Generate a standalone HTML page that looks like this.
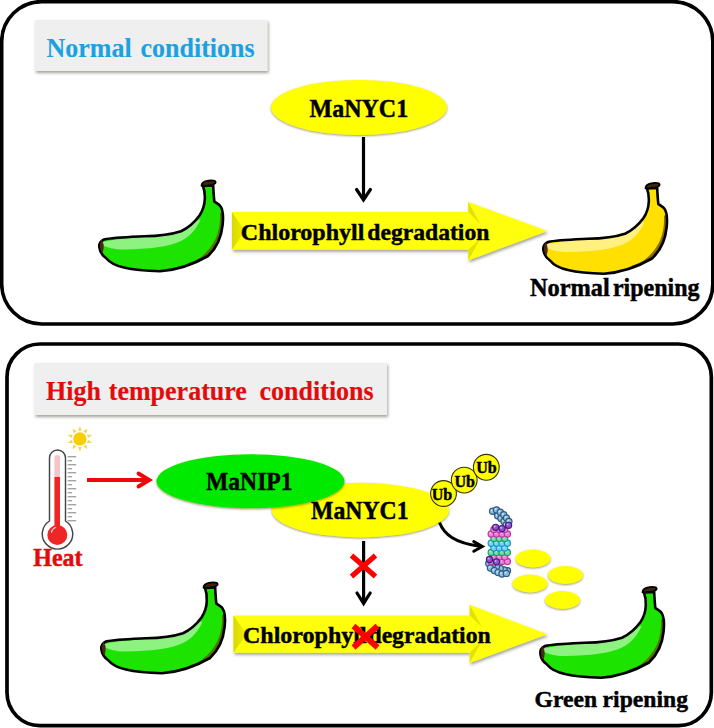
<!DOCTYPE html>
<html><head><meta charset="utf-8">
<style>
html,body{margin:0;padding:0;background:#fff;width:714px;height:728px;overflow:hidden}
svg{position:absolute;left:0;top:0;display:block}
text{font-family:"Liberation Serif",serif;font-weight:bold}
</style></head>
<body>
<svg width="714" height="728" viewBox="0 0 714 728">
<defs>
  <filter id="sh" x="-10%" y="-10%" width="130%" height="140%">
    <feGaussianBlur in="SourceAlpha" stdDeviation="1.4"/>
    <feOffset dx="0.8" dy="2" result="b"/>
    <feFlood flood-color="#4a4636" flood-opacity="0.5"/>
    <feComposite in2="b" operator="in"/>
    <feMerge><feMergeNode/><feMergeNode in="SourceGraphic"/></feMerge>
  </filter>
  <filter id="esh" x="-10%" y="-20%" width="120%" height="150%">
    <feGaussianBlur in="SourceAlpha" stdDeviation="0.9"/>
    <feOffset dx="0.3" dy="1.3" result="b"/>
    <feFlood flood-color="#5a5200" flood-opacity="0.6"/>
    <feComposite in2="b" operator="in"/>
    <feMerge><feMergeNode/><feMergeNode in="SourceGraphic"/></feMerge>
  </filter>
  <linearGradient id="lbev" x1="0" y1="0" x2="1" y2="0">
    <stop offset="0" stop-color="#d9d900"/><stop offset="1" stop-color="#eeee00"/>
  </linearGradient>
  <g id="banana">
    <path d="M104 6 C105.5 10,106 15,105.8 19 C105.6 25,103.5 31,100.5 35.5 C95 43,89 48,82 51.2 C72 54.5,58 56,45 56.3 C30 57,14 57.5,5 59.5 C1 61.5,0 65,0.4 67.5 C1 72,4 76,7 78 C11 83,18 86,25 87.5 C35 90,50 91,61 91.2 C78 90,95 84,109 76 C117.5 68,122.3 58,123.6 45 C124.6 36,124.2 30,121.3 26 C120 24,117 23,115.3 21.5 C114.8 16,114.3 10,114.2 5.5 Z" fill="currentColor"/>
    <path d="M3 62 C20 58,50 57,70 55 C84 52,93 46,99 40 L101.5 39.5 C98 48,92 56,82 61 C70 67,50 69,25 69.5 C15 69.5,8 67.5,3 65 Z" fill="#fff" fill-opacity="0.5"/>
    <path d="M122.6 34 C123.5 54,116.5 68,102 79 C98 81.5,94 83.2,90 84.5" fill="none" stroke="#6b5200" stroke-opacity="0.8" stroke-width="3.2" stroke-linecap="round"/>
    <path d="M104 6 C105.5 10,106 15,105.8 19 C105.6 25,103.5 31,100.5 35.5 C95 43,89 48,82 51.2 C72 54.5,58 56,45 56.3 C30 57,14 57.5,5 59.5 C1 61.5,0 65,0.4 67.5 C1 72,4 76,7 78 C11 83,18 86,25 87.5 C35 90,50 91,61 91.2 C78 90,95 84,109 76 C117.5 68,122.3 58,123.6 45 C124.6 36,124.2 30,121.3 26 C120 24,117 23,115.3 21.5 C114.8 16,114.3 10,114.2 5.5 Z" fill="none" stroke="#000" stroke-width="2.6" stroke-linejoin="round"/>
    <path d="M2.5 61.5 C4 64,4.5 68,3 72 C1.5 69,1.5 64,2.5 61.5 Z" fill="#4a2a10" stroke="#4a2a10" stroke-width="1.5"/>
    <path d="M102.5 5.8 C102.5 3,105.5 1,109.5 0.6 C113 0.2,116.3 0.6,116.6 2 C116.8 3.3,115.5 4.2,113.5 4.8 C110 5.5,105 5.8,102.5 5.8 Z" fill="#3b2410" stroke="#000" stroke-width="1.8" stroke-linejoin="round"/>
  </g>
</defs>
<rect x="1.7" y="1.6" width="711.1" height="322.4" rx="40" ry="40" fill="#fff" stroke="#000" stroke-width="3.6"/>
<rect x="7.0" y="344" width="704.35" height="381.6" rx="33" ry="33" fill="#fff" stroke="#000" stroke-width="3.7"/>
<rect x="35" y="20" width="232.5" height="51" fill="#efefef" filter="url(#sh)"/>
<text x="46.5" y="57.5" font-size="26" fill="#1ca1e0" stroke="#1ca1e0" stroke-width="0.1" transform="matrix(1.0 0 0 1.09 -0.000 -5.175)" >Normal</text>
<text x="140.5" y="57.5" font-size="26" fill="#1ca1e0" stroke="#1ca1e0" stroke-width="0.1" transform="matrix(1.0 0 0 1.09 -0.000 -5.175)" >conditions</text>
<rect x="34.5" y="363" width="352.5" height="52" fill="#efefef" filter="url(#sh)"/>
<text x="46" y="400.2" font-size="26" fill="#e30b0b" stroke="#e30b0b" stroke-width="0.15" transform="matrix(1.0 0 0 1.05 -0.000 -20.010)" >High</text>
<text x="108.8" y="400.2" font-size="26" fill="#e30b0b" stroke="#e30b0b" stroke-width="0.15" transform="matrix(1.0 0 0 1.05 -0.000 -20.010)" >temperature</text>
<text x="259.6" y="400.2" font-size="26" fill="#e30b0b" stroke="#e30b0b" stroke-width="0.15" transform="matrix(1.0 0 0 1.05 -0.000 -20.010)" >conditions</text>
<ellipse cx="359" cy="107.5" rx="88" ry="27.5" fill="#ffff00" filter="url(#esh)"/>
<text x="309.5" y="117.3" font-size="24" fill="#000" stroke="#000" stroke-width="0.45" transform="matrix(1.0 0 0 1.03 -0.000 -3.519)" >MaNYC1</text>
<line x1="363.5" y1="137" x2="363.5" y2="200" stroke="#000" stroke-width="3.2"/>
<polyline points="356.6,189.5 363.5,199.8 370.4,189.5" fill="none" stroke="#000" stroke-width="3.2" stroke-linecap="round"/>
<g filter="url(#sh)"><polygon points="232,212 468.3,212 468.3,202 547.5,230.9 468.3,260.5 468.3,249.8 232,249.8" fill="#ffff10"/></g><polygon points="232,212 245,230.9 232,249.8" fill="url(#lbev)"/><polygon points="468.3,202 480.3,224 468.3,212" fill="#e2e200"/><polygon points="468.3,249.8 480.3,238.5 468.3,260.5" fill="#e2e200"/>
<text x="240.8" y="240.2" font-size="24" fill="#000" stroke="#000" stroke-width="0.45" transform="matrix(1.0 0 0 1.0 -0.000 -0.000)" >Chlorophyll</text>
<text x="367.3" y="240.2" font-size="24" fill="#000" stroke="#000" stroke-width="0.45" transform="matrix(0.985 0 0 1.0 5.510 -0.000)" >degradation</text>
<use href="#banana" x="99" y="180" style="color:#1ce400"/>
<use href="#banana" x="543" y="182.5" style="color:#ffe000"/>
<text x="529.9" y="296.2" font-size="24" fill="#000" stroke="#000" stroke-width="0.45" transform="matrix(1.015 0 0 1.02 -7.948 -5.924)" >Normal</text>
<text x="612.9" y="296.2" font-size="24" fill="#000" stroke="#000" stroke-width="0.45" transform="matrix(1.0 0 0 1.02 -0.000 -5.924)" >ripening</text>
<use href="#banana" x="101" y="582" style="color:#1ce400"/>
<use href="#banana" x="540" y="586.5" style="color:#1ce400"/>
<text x="534.5" y="707.5" font-size="24" fill="#000" stroke="#000" stroke-width="0.45" transform="matrix(0.985 0 0 1.0 8.018 -0.000)" >Green</text>
<text x="602.6" y="707.5" font-size="24" fill="#000" stroke="#000" stroke-width="0.45" transform="matrix(0.985 0 0 1.0 9.039 -0.000)" >ripening</text>
<g filter="url(#sh)"><polygon points="233.5,615.5 469.7,615.5 469.7,604.8 547.5,634.15 469.7,663 469.7,652.8 233.5,652.8" fill="#ffff10"/></g><polygon points="233.5,615.5 246.5,634.15 233.5,652.8" fill="url(#lbev)"/><polygon points="469.7,604.8 481.7,626.8 469.7,615.5" fill="#e2e200"/><polygon points="469.7,652.8 481.7,641 469.7,663" fill="#e2e200"/>
<text x="243" y="642.6" font-size="24" fill="#000" stroke="#000" stroke-width="0.45" transform="matrix(1.0 0 0 1.0 -0.000 -0.000)" >Chlorophyll</text>
<text x="368.5" y="642.6" font-size="24" fill="#000" stroke="#000" stroke-width="0.45" transform="matrix(0.985 0 0 1.0 5.528 -0.000)" >degradation</text>
<ellipse cx="360.4" cy="510.1" rx="88.6" ry="27.3" fill="#ffff00" filter="url(#esh)"/>
<ellipse cx="250.5" cy="481.2" rx="94" ry="27" fill="#00ea00" filter="url(#esh)"/>
<text x="206" y="490" font-size="24" fill="#000" stroke="#000" stroke-width="0.45" transform="matrix(0.985 0 0 1.05 3.090 -24.500)" >MaNIP1</text>
<text x="311" y="519.2" font-size="24" fill="#000" stroke="#000" stroke-width="0.45" transform="matrix(0.99 0 0 1.05 3.110 -25.960)" >MaNYC1</text>
<line x1="363.6" y1="541" x2="363.6" y2="602" stroke="#000" stroke-width="3.2"/>
<polyline points="357,593 363.6,603.4 370.2,593" fill="none" stroke="#000" stroke-width="3.2" stroke-linecap="round"/>
<g stroke="#ff0000">
  <line x1="351.5" y1="555.5" x2="375.5" y2="576.5" stroke-width="5.2"/><line x1="375.5" y1="555.5" x2="351.5" y2="576.5" stroke-width="5.2"/>
  <line x1="353.5" y1="626" x2="377.5" y2="647.5" stroke-width="5.8"/><line x1="377.5" y1="626" x2="353.5" y2="647.5" stroke-width="5.8"/>
</g>
<g stroke="#3a3500" stroke-width="1.1" fill="#ffff00">
  <circle cx="443.5" cy="493.5" r="12.9"/><circle cx="464.2" cy="480.1" r="12.9"/><circle cx="486.3" cy="467.3" r="12.9"/>
</g>
<text x="431.8" y="500" font-size="16" fill="#000" stroke="#000" stroke-width="0.45" transform="matrix(1.0 0 0 1.0 -0.000 -0.000)" >Ub</text>
<text x="454.5" y="487" font-size="16" fill="#000" stroke="#000" stroke-width="0.45" transform="matrix(1.0 0 0 1.0 -0.000 -0.000)" >Ub</text>
<text x="476.2" y="473" font-size="16" fill="#000" stroke="#000" stroke-width="0.45" transform="matrix(1.0 0 0 1.0 -0.000 -0.000)" >Ub</text>
<path d="M439.5 522.5 C444 534,454 543,481 546.5" fill="none" stroke="#000" stroke-width="3"/>
<polyline points="473.8,541.6 482.3,546.5 473.8,551.2" fill="none" stroke="#000" stroke-width="3" stroke-linecap="round"/>
<g fill="#ffff00" filter="url(#esh)">
  <ellipse cx="533" cy="558.5" rx="17.5" ry="9"/><ellipse cx="565.5" cy="575" rx="17.5" ry="9"/>
  <ellipse cx="530" cy="583.5" rx="17.5" ry="9"/><ellipse cx="562.5" cy="600" rx="17.5" ry="9"/>
</g>
<g id="prot"><circle cx="507.5" cy="570.7" r="3.1" fill="#8dbbdb" stroke="#2c5a80" stroke-width="1.15"/><circle cx="506.6" cy="569.8" r="1" fill="#fff" fill-opacity="0.55"/><circle cx="504.2" cy="569.9" r="3.1" fill="#8dbbdb" stroke="#2c5a80" stroke-width="1.15"/><circle cx="503.3" cy="569.0" r="1" fill="#fff" fill-opacity="0.55"/><circle cx="500.3" cy="568.4" r="3.1" fill="#8dbbdb" stroke="#2c5a80" stroke-width="1.15"/><circle cx="499.4" cy="567.5" r="1" fill="#fff" fill-opacity="0.55"/><circle cx="496.5" cy="566.5" r="3.1" fill="#8dbbdb" stroke="#2c5a80" stroke-width="1.15"/><circle cx="495.6" cy="565.6" r="1" fill="#fff" fill-opacity="0.55"/><circle cx="492.6" cy="564.6" r="3.1" fill="#8dbbdb" stroke="#2c5a80" stroke-width="1.15"/><circle cx="491.7" cy="563.7" r="1" fill="#fff" fill-opacity="0.55"/><circle cx="488.8" cy="563.5" r="3.1" fill="#8dbbdb" stroke="#2c5a80" stroke-width="1.15"/><circle cx="487.9" cy="562.6" r="1" fill="#fff" fill-opacity="0.55"/><circle cx="490.4" cy="568.0" r="3.1" fill="#8dbbdb" stroke="#2c5a80" stroke-width="1.15"/><circle cx="489.5" cy="567.1" r="1" fill="#fff" fill-opacity="0.55"/><circle cx="494.3" cy="570.6" r="3.1" fill="#8dbbdb" stroke="#2c5a80" stroke-width="1.15"/><circle cx="493.4" cy="569.7" r="1" fill="#fff" fill-opacity="0.55"/><circle cx="498.1" cy="572.6" r="3.1" fill="#8dbbdb" stroke="#2c5a80" stroke-width="1.15"/><circle cx="497.2" cy="571.7" r="1" fill="#fff" fill-opacity="0.55"/><circle cx="502.0" cy="574.0" r="3.1" fill="#8dbbdb" stroke="#2c5a80" stroke-width="1.15"/><circle cx="501.1" cy="573.1" r="1" fill="#fff" fill-opacity="0.55"/><circle cx="506.4" cy="573.4" r="3.1" fill="#8dbbdb" stroke="#2c5a80" stroke-width="1.15"/><circle cx="505.5" cy="572.5" r="1" fill="#fff" fill-opacity="0.55"/><circle cx="491.2" cy="561.5" r="3.1" fill="#ef80d8" stroke="#b8389f" stroke-width="1.15"/><circle cx="490.3" cy="560.6" r="1" fill="#fff" fill-opacity="0.55"/><circle cx="496.6" cy="561.5" r="3.1" fill="#ef80d8" stroke="#b8389f" stroke-width="1.15"/><circle cx="495.7" cy="560.6" r="1" fill="#fff" fill-opacity="0.55"/><circle cx="502.0" cy="561.5" r="3.1" fill="#ef80d8" stroke="#b8389f" stroke-width="1.15"/><circle cx="501.1" cy="560.6" r="1" fill="#fff" fill-opacity="0.55"/><circle cx="507.4" cy="561.5" r="3.1" fill="#ef80d8" stroke="#b8389f" stroke-width="1.15"/><circle cx="506.5" cy="560.6" r="1" fill="#fff" fill-opacity="0.55"/><circle cx="493.9" cy="557.0" r="3.1" fill="#ef80d8" stroke="#b8389f" stroke-width="1.15"/><circle cx="493.0" cy="556.1" r="1" fill="#fff" fill-opacity="0.55"/><circle cx="499.3" cy="557.0" r="3.1" fill="#ef80d8" stroke="#b8389f" stroke-width="1.15"/><circle cx="498.4" cy="556.1" r="1" fill="#fff" fill-opacity="0.55"/><circle cx="504.7" cy="557.0" r="3.1" fill="#ef80d8" stroke="#b8389f" stroke-width="1.15"/><circle cx="503.8" cy="556.1" r="1" fill="#fff" fill-opacity="0.55"/><circle cx="491.2" cy="552.5" r="3.1" fill="#74dba8" stroke="#1f9a66" stroke-width="1.15"/><circle cx="490.3" cy="551.6" r="1" fill="#fff" fill-opacity="0.55"/><circle cx="496.6" cy="552.5" r="3.1" fill="#74dba8" stroke="#1f9a66" stroke-width="1.15"/><circle cx="495.7" cy="551.6" r="1" fill="#fff" fill-opacity="0.55"/><circle cx="502.0" cy="552.5" r="3.1" fill="#74dba8" stroke="#1f9a66" stroke-width="1.15"/><circle cx="501.1" cy="551.6" r="1" fill="#fff" fill-opacity="0.55"/><circle cx="507.4" cy="552.5" r="3.1" fill="#74dba8" stroke="#1f9a66" stroke-width="1.15"/><circle cx="506.5" cy="551.6" r="1" fill="#fff" fill-opacity="0.55"/><circle cx="493.9" cy="548.0" r="3.1" fill="#74d4f2" stroke="#1598c6" stroke-width="1.15"/><circle cx="493.0" cy="547.1" r="1" fill="#fff" fill-opacity="0.55"/><circle cx="499.3" cy="548.0" r="3.1" fill="#74d4f2" stroke="#1598c6" stroke-width="1.15"/><circle cx="498.4" cy="547.1" r="1" fill="#fff" fill-opacity="0.55"/><circle cx="504.7" cy="548.0" r="3.1" fill="#74d4f2" stroke="#1598c6" stroke-width="1.15"/><circle cx="503.8" cy="547.1" r="1" fill="#fff" fill-opacity="0.55"/><circle cx="491.2" cy="543.2" r="3.1" fill="#74d4f2" stroke="#1598c6" stroke-width="1.15"/><circle cx="490.3" cy="542.3" r="1" fill="#fff" fill-opacity="0.55"/><circle cx="496.6" cy="543.2" r="3.1" fill="#74d4f2" stroke="#1598c6" stroke-width="1.15"/><circle cx="495.7" cy="542.3" r="1" fill="#fff" fill-opacity="0.55"/><circle cx="502.0" cy="543.2" r="3.1" fill="#74d4f2" stroke="#1598c6" stroke-width="1.15"/><circle cx="501.1" cy="542.3" r="1" fill="#fff" fill-opacity="0.55"/><circle cx="507.4" cy="543.2" r="3.1" fill="#74d4f2" stroke="#1598c6" stroke-width="1.15"/><circle cx="506.5" cy="542.3" r="1" fill="#fff" fill-opacity="0.55"/><circle cx="493.9" cy="538.5" r="3.1" fill="#74dba8" stroke="#1f9a66" stroke-width="1.15"/><circle cx="493.0" cy="537.6" r="1" fill="#fff" fill-opacity="0.55"/><circle cx="499.3" cy="538.5" r="3.1" fill="#74dba8" stroke="#1f9a66" stroke-width="1.15"/><circle cx="498.4" cy="537.6" r="1" fill="#fff" fill-opacity="0.55"/><circle cx="504.7" cy="538.5" r="3.1" fill="#74dba8" stroke="#1f9a66" stroke-width="1.15"/><circle cx="503.8" cy="537.6" r="1" fill="#fff" fill-opacity="0.55"/><circle cx="491.2" cy="534.0" r="3.1" fill="#ef80d8" stroke="#b8389f" stroke-width="1.15"/><circle cx="490.3" cy="533.1" r="1" fill="#fff" fill-opacity="0.55"/><circle cx="496.6" cy="534.0" r="3.1" fill="#ef80d8" stroke="#b8389f" stroke-width="1.15"/><circle cx="495.7" cy="533.1" r="1" fill="#fff" fill-opacity="0.55"/><circle cx="502.0" cy="534.0" r="3.1" fill="#ef80d8" stroke="#b8389f" stroke-width="1.15"/><circle cx="501.1" cy="533.1" r="1" fill="#fff" fill-opacity="0.55"/><circle cx="507.4" cy="534.0" r="3.1" fill="#ef80d8" stroke="#b8389f" stroke-width="1.15"/><circle cx="506.5" cy="533.1" r="1" fill="#fff" fill-opacity="0.55"/><circle cx="493.9" cy="529.5" r="3.1" fill="#ef80d8" stroke="#b8389f" stroke-width="1.15"/><circle cx="493.0" cy="528.6" r="1" fill="#fff" fill-opacity="0.55"/><circle cx="499.3" cy="529.5" r="3.1" fill="#ef80d8" stroke="#b8389f" stroke-width="1.15"/><circle cx="498.4" cy="528.6" r="1" fill="#fff" fill-opacity="0.55"/><circle cx="504.7" cy="529.5" r="3.1" fill="#ef80d8" stroke="#b8389f" stroke-width="1.15"/><circle cx="503.8" cy="528.6" r="1" fill="#fff" fill-opacity="0.55"/><circle cx="489.5" cy="559.5" r="3.1" fill="#9250cc" stroke="#4a1a84" stroke-width="1.15"/><circle cx="488.6" cy="558.6" r="1" fill="#fff" fill-opacity="0.55"/><circle cx="496.5" cy="561.8" r="3.1" fill="#9250cc" stroke="#4a1a84" stroke-width="1.15"/><circle cx="495.6" cy="560.9" r="1" fill="#fff" fill-opacity="0.55"/><circle cx="497.6" cy="515.7" r="3.1" fill="#8dbbdb" stroke="#2c5a80" stroke-width="1.15"/><circle cx="496.7" cy="514.8" r="1" fill="#fff" fill-opacity="0.55"/><circle cx="501.0" cy="518.5" r="3.1" fill="#8dbbdb" stroke="#2c5a80" stroke-width="1.15"/><circle cx="500.1" cy="517.6" r="1" fill="#fff" fill-opacity="0.55"/><circle cx="504.0" cy="521.5" r="3.1" fill="#8dbbdb" stroke="#2c5a80" stroke-width="1.15"/><circle cx="503.1" cy="520.6" r="1" fill="#fff" fill-opacity="0.55"/><circle cx="506.3" cy="524.8" r="3.1" fill="#8dbbdb" stroke="#2c5a80" stroke-width="1.15"/><circle cx="505.4" cy="523.9" r="1" fill="#fff" fill-opacity="0.55"/><circle cx="492.6" cy="511.3" r="3.1" fill="#8dbbdb" stroke="#2c5a80" stroke-width="1.15"/><circle cx="491.7" cy="510.4" r="1" fill="#fff" fill-opacity="0.55"/><circle cx="496.5" cy="509.9" r="3.1" fill="#8dbbdb" stroke="#2c5a80" stroke-width="1.15"/><circle cx="495.6" cy="509.0" r="1" fill="#fff" fill-opacity="0.55"/><circle cx="500.3" cy="512.2" r="3.1" fill="#8dbbdb" stroke="#2c5a80" stroke-width="1.15"/><circle cx="499.4" cy="511.3" r="1" fill="#fff" fill-opacity="0.55"/><circle cx="503.7" cy="514.8" r="3.1" fill="#8dbbdb" stroke="#2c5a80" stroke-width="1.15"/><circle cx="502.8" cy="513.9" r="1" fill="#fff" fill-opacity="0.55"/><circle cx="506.5" cy="518.0" r="3.1" fill="#8dbbdb" stroke="#2c5a80" stroke-width="1.15"/><circle cx="505.6" cy="517.1" r="1" fill="#fff" fill-opacity="0.55"/><circle cx="508.9" cy="521.5" r="3.1" fill="#8dbbdb" stroke="#2c5a80" stroke-width="1.15"/><circle cx="508.0" cy="520.6" r="1" fill="#fff" fill-opacity="0.55"/><circle cx="495.6" cy="527.3" r="3.1" fill="#9250cc" stroke="#4a1a84" stroke-width="1.15"/><circle cx="494.7" cy="526.4" r="1" fill="#fff" fill-opacity="0.55"/><circle cx="502.0" cy="528.6" r="3.1" fill="#9250cc" stroke="#4a1a84" stroke-width="1.15"/><circle cx="501.1" cy="527.7" r="1" fill="#fff" fill-opacity="0.55"/><circle cx="508.6" cy="525.3" r="3.1" fill="#9250cc" stroke="#4a1a84" stroke-width="1.15"/><circle cx="507.7" cy="524.4" r="1" fill="#fff" fill-opacity="0.55"/></g>
<g id="thermo">
  <path d="M49.5 521 L49.5 458 A8 8 0 0 1 65.5 458 L65.5 521 A15.2 15.2 0 1 1 49.5 521 Z" fill="#fff" stroke="#454545" stroke-width="1.45"/>
  <rect x="54.4" y="455" width="5.6" height="24" rx="2.8" fill="#f6c3c6"/>
  <rect x="54.4" y="477" width="5.6" height="52" fill="#ee2626"/>
  <circle cx="57.3" cy="535" r="10" fill="#ee2626"/>
  <path d="M51.5 532 A6.5 6.5 0 0 1 55.5 527.5" fill="none" stroke="#fff" stroke-opacity="0.8" stroke-width="1.3" stroke-linecap="round"/>
</g>
<g stroke="#a3a3a3" stroke-width="1.35"><line x1="67.6" y1="456.7" x2="76.2" y2="456.7"/><line x1="67.6" y1="460.7" x2="72" y2="460.7"/><line x1="67.6" y1="464.7" x2="76.2" y2="464.7"/><line x1="67.6" y1="468.7" x2="72" y2="468.7"/><line x1="67.6" y1="472.7" x2="76.2" y2="472.7"/><line x1="67.6" y1="476.7" x2="72" y2="476.7"/><line x1="67.6" y1="480.7" x2="76.2" y2="480.7"/><line x1="67.6" y1="484.7" x2="72" y2="484.7"/><line x1="67.6" y1="488.7" x2="76.2" y2="488.7"/><line x1="67.6" y1="492.7" x2="72" y2="492.7"/><line x1="67.6" y1="496.7" x2="76.2" y2="496.7"/><line x1="67.6" y1="500.7" x2="72" y2="500.7"/><line x1="67.6" y1="504.7" x2="76.2" y2="504.7"/><line x1="67.6" y1="508.7" x2="72" y2="508.7"/><line x1="67.6" y1="512.7" x2="76.2" y2="512.7"/><line x1="67.6" y1="516.7" x2="72" y2="516.7"/><line x1="67.6" y1="520.7" x2="76.2" y2="520.7"/></g>
<text x="33.3" y="566.3" font-size="24" fill="#e30b0b" stroke="#e30b0b" stroke-width="0.45" transform="matrix(1.0 0 0 1.06 -0.000 -33.978)" >Heat</text>
<line x1="87" y1="480" x2="148" y2="480" stroke="#ee0a0a" stroke-width="3.9"/>
<polyline points="138.5,473.5 149.3,480 138.5,486.5" fill="none" stroke="#ee0a0a" stroke-width="3.9" stroke-linecap="round"/>
<g id="sun"><polygon points="92.1,434.9 87.0,434.7 88.2,438.1" fill="#f3d54a"/><polygon points="87.4,428.5 83.2,431.3 86.1,433.4" fill="#f3d54a"/><polygon points="79.9,426.1 78.1,430.8 81.7,430.8" fill="#f3d54a"/><polygon points="72.4,428.5 73.7,433.4 76.6,431.3" fill="#f3d54a"/><polygon points="67.7,434.9 71.6,438.1 72.8,434.7" fill="#f3d54a"/><polygon points="67.7,442.9 72.8,443.1 71.6,439.7" fill="#f3d54a"/><polygon points="72.4,449.3 76.6,446.5 73.7,444.4" fill="#f3d54a"/><polygon points="79.9,451.7 81.7,447.0 78.1,447.0" fill="#f3d54a"/><polygon points="87.4,449.3 86.1,444.4 83.2,446.5" fill="#f3d54a"/><polygon points="92.1,442.9 88.2,439.7 87.0,443.1" fill="#f3d54a"/><circle cx="79.9" cy="438.9" r="6.7" fill="#f8cf06"/></g>
</svg>
</body></html>
